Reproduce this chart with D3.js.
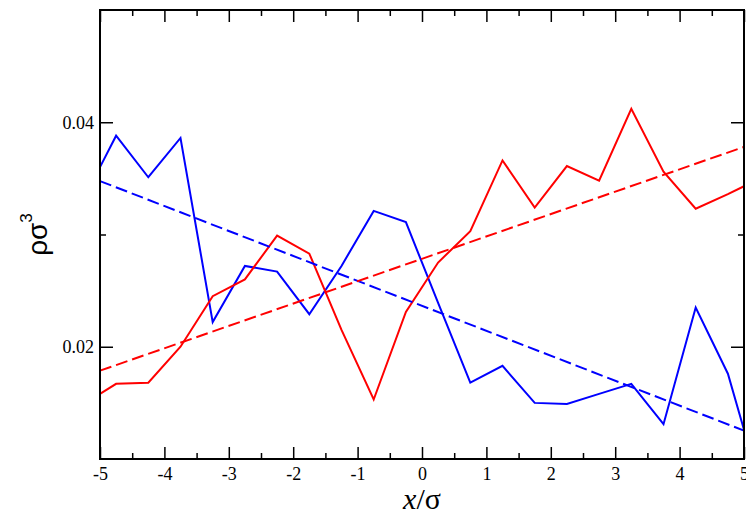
<!DOCTYPE html>
<html>
<head>
<meta charset="utf-8">
<script src="https://cdn.jsdelivr.net/npm/d3@7"></script>
<style>
  body { margin: 0; background: #fff; }
  svg { display: block; }
  .serif { font-family: "Liberation Serif", "DejaVu Serif", serif; }
  .sans { font-family: "Liberation Sans", "DejaVu Sans", sans-serif; }
</style>
</head>
<body>
<svg id="chart" width="746" height="518"></svg>
<script>
// sample positions (x/sigma)
var xs = [-5, -4.75, -4.25, -3.75, -3.25, -2.75, -2.25, -1.75, -1.25, -0.75, -0.25,
          0.25, 0.75, 1.25, 1.75, 2.25, 2.75, 3.25, 3.75, 4.25, 4.75, 5];
// density profiles
var blueRho = [0.0360, 0.0388, 0.0351, 0.0386, 0.0222, 0.0272, 0.0267, 0.0229, 0.0272, 0.0321, 0.0311,
               0.0239, 0.0168, 0.0183, 0.0150, 0.0149, 0.0158, 0.0167, 0.0131, 0.0235, 0.0176, 0.0126];
var redRho  = [0.0158, 0.0167, 0.0168, 0.0200, 0.0245, 0.0260, 0.0299, 0.0283, 0.0215, 0.0153, 0.0231,
               0.0275, 0.0303, 0.0366, 0.0324, 0.0361, 0.0348, 0.0412, 0.0356, 0.0323, 0.0336, 0.0343];
// linear fits, value at x = -5 and x = 5
var fitX = [-5, 5];
var blueFit = [0.03476, 0.01253];
var redFit  = [0.01787, 0.0378];

var xTicks = [-5, -4, -3, -2, -1, 0, 1, 2, 3, 4, 5];
var xMinor = [-4.5, -3.5, -2.5, -1.5, -0.5, 0.5, 1.5, 2.5, 3.5, 4.5];
var yTicks = [0.02, 0.04];
var yMinor = [0.03];

var svg = d3.select("#chart");
var margin = {top: 10, right: 2, bottom: 59, left: 100};
var W = 746, H = 518;

var x = d3.scaleLinear().domain([-5, 5]).range([margin.left, W - margin.right]);
var y = d3.scaleLinear().domain([0.01, 0.05]).range([H - margin.bottom, margin.top]);

var line = d3.line()
    .x(function(d){ return x(d[0]); })
    .y(function(d){ return y(d[1]); });

function drawSeries(vals, xv, color, dash){
    svg.append("path")
        .datum(xv.map(function(v, i){ return [v, vals[i]]; }))
        .attr("d", line)
        .attr("fill", "none")
        .attr("stroke", color)
        .attr("stroke-width", 2)
        .attr("stroke-dasharray", dash || null);
}

drawSeries(blueRho, xs, "#0000ff");
drawSeries(redRho, xs, "#ff0000");
drawSeries(blueFit, fitX, "#0000ff", "12,5");
drawSeries(redFit, fitX, "#ff0000", "12,5");

// plain hyphen for negatives, like the original
var intFmt = function(d){ return String(d); };

// axes: ticks inward on all four sides
var bottomAx = d3.axisBottom(x).tickValues(xTicks).tickSize(-12).tickFormat(intFmt);
var bottomMin = d3.axisBottom(x).tickValues(xMinor).tickSize(-6).tickFormat("");
var topAx = d3.axisTop(x).tickValues(xTicks).tickSize(-12).tickFormat("");
var topMin = d3.axisTop(x).tickValues(xMinor).tickSize(-6).tickFormat("");
var leftAx = d3.axisLeft(y).tickValues(yTicks).tickSize(-13).tickFormat(d3.format(".2f"));
var leftMin = d3.axisLeft(y).tickValues(yMinor).tickSize(-6).tickFormat("");
var rightAx = d3.axisRight(y).tickValues(yTicks).tickSize(-13).tickFormat("");
var rightMin = d3.axisRight(y).tickValues(yMinor).tickSize(-6).tickFormat("");

function place(ax, tr){
    var g = svg.append("g").attr("transform", tr).call(ax);
    g.select(".domain").remove();
    g.attr("font-family", null).attr("font-size", null);
    g.selectAll("line").attr("stroke", "#000").attr("stroke-width", 1.5);
    g.selectAll("text")
        .attr("class", "serif")
        .attr("fill", "#000")
        .attr("font-size", 18);
    return g;
}
var gb = place(bottomAx, "translate(0," + (H - margin.bottom) + ")");
gb.selectAll("text").attr("y", 8).attr("dy", "0.71em");
place(bottomMin, "translate(0," + (H - margin.bottom) + ")");
place(topAx, "translate(0," + margin.top + ")");
place(topMin, "translate(0," + margin.top + ")");
var gl = place(leftAx, "translate(" + margin.left + ",0)");
gl.selectAll("text").attr("x", -6);
place(leftMin, "translate(" + margin.left + ",0)");
place(rightAx, "translate(" + (W - margin.right) + ",0)");
place(rightMin, "translate(" + (W - margin.right) + ",0)");

// frame
svg.append("rect")
    .attr("x", margin.left).attr("y", margin.top)
    .attr("width", W - margin.left - margin.right)
    .attr("height", H - margin.top - margin.bottom)
    .attr("fill", "none").attr("stroke", "#000").attr("stroke-width", 2);

// axis titles
var xt = svg.append("text")
    .attr("class", "serif")
    .attr("x", x(0)).attr("y", 509)
    .attr("text-anchor", "middle")
    .attr("font-size", 30);
xt.append("tspan").attr("font-style", "italic").text("x");
xt.append("tspan").text("/σ");

var yt = svg.append("text")
    .attr("class", "sans")
    .attr("transform", "translate(47," + y(0.03) + ") rotate(-90)")
    .attr("text-anchor", "middle")
    .attr("font-size", 28);
yt.append("tspan").text("ρσ");
yt.append("tspan").attr("dy", -15).attr("font-size", 17).text("3");
</script>
</body>
</html>
